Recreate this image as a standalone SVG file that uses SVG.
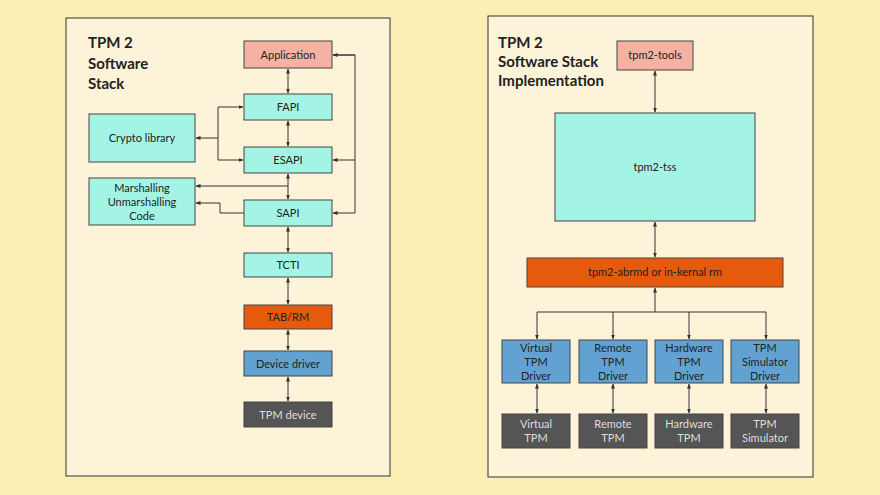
<svg xmlns="http://www.w3.org/2000/svg" width="880" height="495" viewBox="0 0 880 495">
<defs>
<marker id="a" viewBox="0 0 10 10" refX="9" refY="5" markerWidth="5" markerHeight="5" orient="auto-start-reverse"><path d="M0,1 L10,5 L0,9 z" fill="#333"/></marker>
<style>
.p{fill:#fdf3d9;stroke:#333;stroke-width:1}
.n rect{stroke:#444;stroke-width:1}
.c{fill:#a4f4e6}.pk{fill:#f5b1a1}.o{fill:#e65a0e}.b{fill:#62a2d2}.d{fill:#555}
text{font-family:Lato,"Open Sans",sans-serif;font-size:11px;text-anchor:middle;fill:#222}
.w{fill:#ddd}
.t{font-size:15px;font-weight:bold;text-anchor:start}
#cn path,#cn line{stroke:#333;stroke-width:1;fill:none}
.x{marker-start:url(#a);marker-end:url(#a)}.e{marker-end:url(#a)}
</style>
</defs>
<rect width="880" height="495" fill="#fbefb6"/>
<rect class="p" x="66" y="18" width="324" height="458"/>
<rect class="p" x="488" y="16" width="325" height="461"/>
<text class="t" x="88" y="48">TPM 2</text><text class="t" x="88" y="69">Software</text><text class="t" x="88" y="89">Stack</text>
<text class="t" x="498" y="48">TPM 2</text><text class="t" x="498" y="67">Software Stack</text><text class="t" x="498" y="86">Implementation</text>
<g id="cn">
<line class="x" x1="288" y1="69" x2="288" y2="93"/>
<line class="x" x1="288" y1="121" x2="288" y2="146"/>
<line class="x" x1="288" y1="174" x2="288" y2="199"/>
<line class="x" x1="288" y1="227" x2="288" y2="252"/>
<line class="x" x1="288" y1="278" x2="288" y2="304"/>
<line class="x" x1="288" y1="330" x2="288" y2="350"/>
<line class="x" x1="288" y1="377" x2="288" y2="401"/>
<path class="e" d="M355,55 H333"/>
<path d="M333,55 H355 V213"/>
<path class="e" d="M355,160 H333"/>
<path class="e" d="M355,213 H333"/>
<path class="e" d="M218,107 H243"/>
<path class="e" d="M218,107 V160 H243"/>
<path class="e" d="M218,138 H196"/>
<path class="e" d="M288,186 H196"/>
<path class="e" d="M244,213 H220 V203 H196"/>
<line class="x" x1="655" y1="71" x2="655" y2="112"/>
<line class="x" x1="655" y1="222" x2="655" y2="257"/>
<path class="e" d="M655,312 V288"/>
<path d="M537,312 H766"/>
<path class="e" d="M537,312 V339"/><path class="e" d="M613,312 V339"/><path class="e" d="M689,312 V339"/><path class="e" d="M766,312 V339"/>
<line class="x" x1="537" y1="384" x2="537" y2="413"/>
<line class="x" x1="613" y1="384" x2="613" y2="413"/>
<line class="x" x1="689" y1="384" x2="689" y2="413"/>
<line class="x" x1="766" y1="384" x2="766" y2="413"/>
</g>
<g id="app" class="n"><rect class="pk" x="244" y="41" width="88" height="27"/><text x="288" y="59">Application</text></g>
<g id="fapi" class="n"><rect class="c" x="244" y="94" width="88" height="26"/><text x="288" y="111">FAPI</text></g>
<g id="esapi" class="n"><rect class="c" x="244" y="147" width="88" height="26"/><text x="288" y="164">ESAPI</text></g>
<g id="sapi" class="n"><rect class="c" x="244" y="200" width="88" height="26"/><text x="288" y="217">SAPI</text></g>
<g id="tcti" class="n"><rect class="c" x="244" y="253" width="88" height="24"/><text x="288" y="269">TCTI</text></g>
<g id="tabrm" class="n"><rect class="o" x="244" y="305" width="88" height="24"/><text x="288" y="321">TAB/RM</text></g>
<g id="dd" class="n"><rect class="b" x="244" y="351" width="88" height="25"/><text x="288" y="368">Device driver</text></g>
<g id="tpmdev" class="n"><rect class="d" x="244" y="402" width="88" height="25"/><text class="w" x="288" y="419">TPM device</text></g>
<g id="crypto" class="n"><rect class="c" x="89" y="114" width="106" height="48"/><text x="142" y="142">Crypto library</text></g>
<g id="marsh" class="n"><rect class="c" x="89" y="178" width="106" height="47"/><text x="142" y="192">Marshalling</text><text x="142" y="206">Unmarshalling</text><text x="142" y="220">Code</text></g>
<g id="tools" class="n"><rect class="pk" x="617" y="41" width="76" height="29"/><text x="655" y="59">tpm2-tools</text></g>
<g id="tss" class="n"><rect class="c" x="555" y="113" width="200" height="108"/><text x="655" y="171">tpm2-tss</text></g>
<g id="abrmd" class="n"><rect class="o" x="527" y="258" width="256" height="29"/><text x="655" y="276">tpm2-abrmd or in-kernal rm</text></g>
<g id="vd" class="n"><rect class="b" x="502" y="340" width="68" height="43"/><text x="536" y="352">Virtual</text><text x="536" y="366">TPM</text><text x="536" y="380">Driver</text></g>
<g id="rd" class="n"><rect class="b" x="579" y="340" width="68" height="43"/><text x="613" y="352">Remote</text><text x="613" y="366">TPM</text><text x="613" y="380">Driver</text></g>
<g id="hd" class="n"><rect class="b" x="655" y="340" width="68" height="43"/><text x="689" y="352">Hardware</text><text x="689" y="366">TPM</text><text x="689" y="380">Driver</text></g>
<g id="sd" class="n"><rect class="b" x="731" y="340" width="68" height="43"/><text x="765" y="352">TPM</text><text x="765" y="366">Simulator</text><text x="765" y="380">Driver</text></g>
<g id="vt" class="n"><rect class="d" x="502" y="414" width="68" height="34"/><text class="w" x="536" y="428">Virtual</text><text class="w" x="536" y="442">TPM</text></g>
<g id="rt" class="n"><rect class="d" x="579" y="414" width="68" height="34"/><text class="w" x="613" y="428">Remote</text><text class="w" x="613" y="442">TPM</text></g>
<g id="ht" class="n"><rect class="d" x="655" y="414" width="68" height="34"/><text class="w" x="689" y="428">Hardware</text><text class="w" x="689" y="442">TPM</text></g>
<g id="st" class="n"><rect class="d" x="731" y="414" width="68" height="34"/><text class="w" x="765" y="428">TPM</text><text class="w" x="765" y="442">Simulator</text></g>
</svg>
